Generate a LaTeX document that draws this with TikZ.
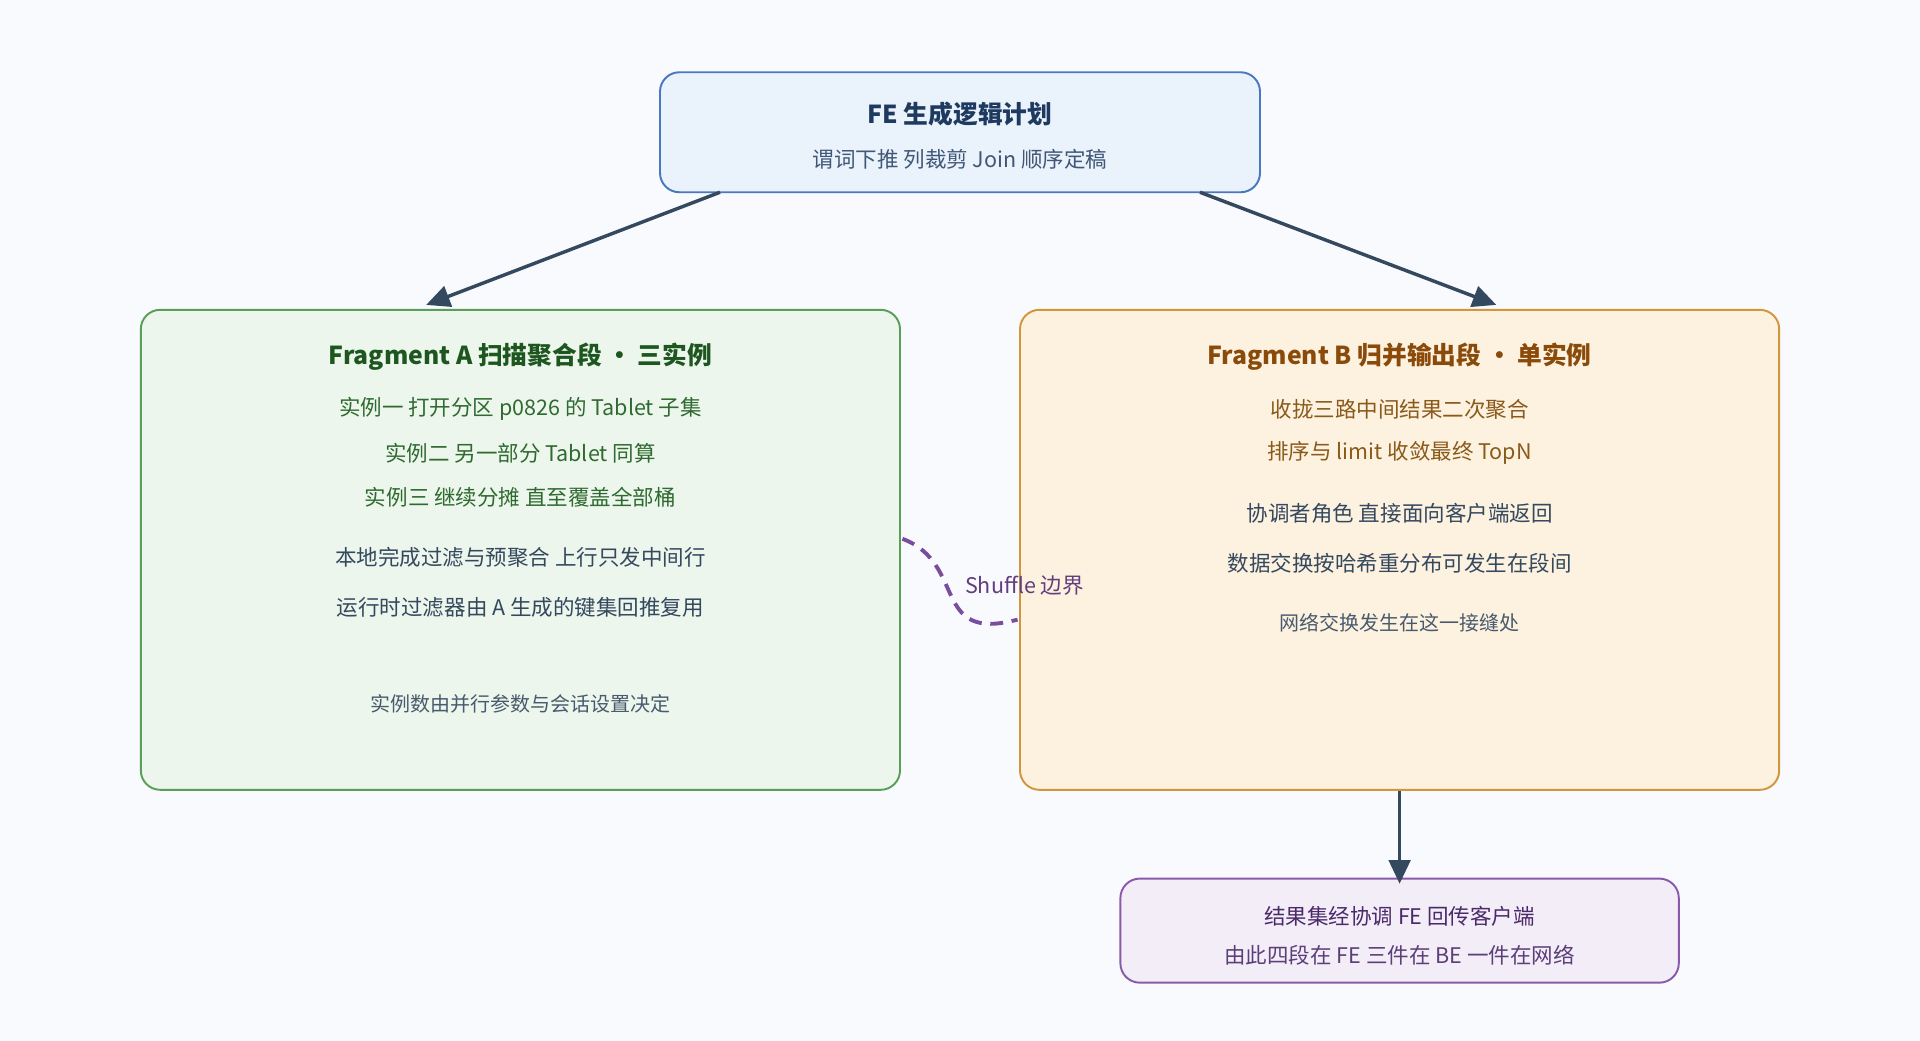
\documentclass[tikz,border=0pt]{standalone}
\usepackage{fontspec}
\setmainfont{Noto Sans CJK SC}
\usetikzlibrary{arrows.meta,positioning,calc}
\definecolor{bgc}{HTML}{F8FAFD}
\definecolor{arrc}{HTML}{34495E}
\definecolor{topfill}{HTML}{EAF2FB}
\definecolor{topline}{HTML}{4A78C0}
\definecolor{toptext}{HTML}{1F3A5F}
\definecolor{afill}{HTML}{EDF6EC}
\definecolor{aline}{HTML}{5A9E5A}
\definecolor{atitle}{HTML}{1E5620}
\definecolor{atext}{HTML}{2F6A30}
\definecolor{bfill}{HTML}{FDF1E0}
\definecolor{bline}{HTML}{D4963C}
\definecolor{btitle}{HTML}{8A4A0A}
\definecolor{btext}{HTML}{8A5A1A}
\definecolor{cfill}{HTML}{F3EDF8}
\definecolor{cline}{HTML}{8A5AAA}
\definecolor{ctext}{HTML}{4A2A6A}
\definecolor{shuf}{HTML}{7A4E9E}
\tikzset{
  box/.style={draw, line width=0.9pt, rounded corners=9pt, inner sep=0pt},
  ttl/.style={font=\fontsize{11.5}{13}\selectfont\bfseries},
  txt/.style={font=\fontsize{10}{12}\selectfont},
  small/.style={font=\fontsize{9.3}{11}\selectfont},
  flow/.style={draw=arrc, line width=1.6pt, -{Triangle[length=11pt,width=10pt]}}
}
\begin{document}
\begin{tikzpicture}[x=0.02cm,y=-0.02cm]
  \fill[bgc] (0,0) rectangle (1568,850);
  \useasboundingbox (0,0) rectangle (1568,850);

  % boxes
  \node[box, draw=topline, fill=topfill, minimum width=490*0.02cm, minimum height=98*0.02cm] (plan) at (784,108) {};
  \node[box, draw=aline, fill=afill, minimum width=620*0.02cm, minimum height=392*0.02cm] (fragA) at (425,449) {};
  \node[box, draw=bline, fill=bfill, minimum width=620*0.02cm, minimum height=392*0.02cm] (fragB) at (1143,449) {};
  \node[box, draw=cline, fill=cfill, minimum width=456*0.02cm, minimum height=85*0.02cm] (result) at (1143,760) {};

  % top
  \node[ttl, text=toptext] (planT) at (784,93) {FE 生成逻辑计划};
  \node[txt, text=toptext!85] (planS) at (784,130) {谓词下推 列裁剪 Join 顺序定稿};

  % fragment A
  \node[ttl, text=atitle] (aT) at (425,291) {Fragment A 扫描聚合段 · 三实例};
  \node[txt, text=atext] (a1) at (425,334) {实例一 打开分区 p0826 的 Tablet 子集};
  \node[txt, text=atext] (a2) at (425,370) {实例二 另一部分 Tablet 同算};
  \node[txt, text=atext] (a3) at (425,406) {实例三 继续分摊 直至覆盖全部桶};
  \node[txt, text=arrc] (a4) at (425,455) {本地完成过滤与预聚合 上行只发中间行};
  \node[txt, text=arrc] (a5) at (425,496) {运行时过滤器由 A 生成的键集回推复用};
  \node[small, text=arrc!90] (a6) at (425,575) {实例数由并行参数与会话设置决定};

  % fragment B
  \node[ttl, text=btitle] (bT) at (1143,291) {Fragment B 归并输出段 · 单实例};
  \node[txt, text=btext] (b1) at (1143,334) {收拢三路中间结果二次聚合};
  \node[txt, text=btext] (b2) at (1143,370) {排序与 limit 收敛最终 TopN};
  \node[txt, text=arrc] (b3) at (1143,419) {协调者角色 直接面向客户端返回};
  \node[txt, text=arrc] (b4) at (1143,460) {数据交换按哈希重分布可发生在段间};
  \node[small, text=arrc!90] (b5) at (1143,509) {网络交换发生在这一接缝处};

  % result
  \node[txt, text=ctext] (c1) at (1143,748) {结果集经协调 FE 回传客户端};
  \node[txt, text=ctext!90] (c2) at (1143,780) {由此四段在 FE 三件在 BE 一件在网络};

  % connectors
  \coordinate (pA) at (588,157);
  \coordinate (pB) at (980,157);
  \coordinate (inA) at (348,249);
  \coordinate (inB) at (1222,249);
  \draw[flow] (pA) -- (inA);
  \draw[flow] (pB) -- (inB);
  \draw[flow] (fragB.south) -- ([yshift=-5*0.02cm]result.north);

  \coordinate (sA) at (737,440);
  \coordinate (sB) at (831,506);
  \draw[shuf, line width=1.8pt, dash pattern=on 6pt off 4pt] (sA) .. controls (790,460) and (760,525) .. (sB);
  \node[txt, text=shuf!80!black, anchor=west] (shufL) at (782,478) {Shuffle 边界};
\end{tikzpicture}
\end{document}
